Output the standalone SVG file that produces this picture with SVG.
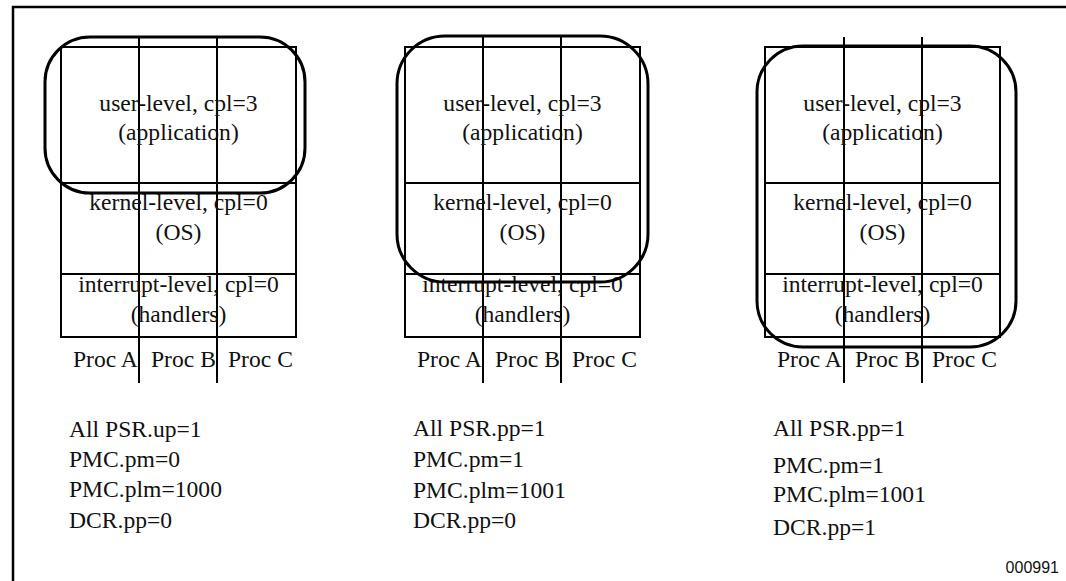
<svg xmlns="http://www.w3.org/2000/svg" width="1066" height="581" viewBox="0 0 1066 581">
<style>
.frame{fill:none;stroke:#000;stroke-width:2.5}
.grid{fill:none;stroke:#000;stroke-width:2}
.ring{fill:none;stroke:#000;stroke-width:3}
.t{font-family:"Liberation Serif","Times New Roman",serif;font-size:23.6px;fill:#111}
.c{text-anchor:middle}
.id{font-family:"Liberation Sans",Arial,sans-serif;font-size:16px;fill:#111;text-anchor:end}
</style>
<rect width="1066" height="581" fill="#fff"/>
<path class="frame" d="M13,581 V7 H1066"/>

<g id="panel1">
  <g id="grid1">
    <rect class="grid" x="61" y="47" width="235" height="290"/>
    <line class="grid" x1="61" y1="183" x2="296" y2="183"/>
    <line class="grid" x1="61" y1="274" x2="296" y2="274"/>
    <line class="grid" x1="139" y1="38" x2="139" y2="383"/>
    <line class="grid" x1="217" y1="38" x2="217" y2="383"/>
  </g>
  <g class="t c">
    <text x="178.5" y="111">user-level, cpl=3</text>
    <text x="178.5" y="140">(application)</text>
    <text x="178.5" y="210">kernel-level, cpl=0</text>
    <text x="178.5" y="240">(OS)</text>
    <text x="178.5" y="292">interrupt-level, cpl=0</text>
    <text x="178.5" y="322">(handlers)</text>
  </g>
  <g class="t">
    <text x="73" y="367">Proc A</text>
    <text x="151" y="367">Proc B</text>
    <text x="228" y="367">Proc C</text>
  </g>
  <rect id="scope1" class="ring" x="45" y="37" width="260" height="156" rx="45" ry="45"/>
  <g id="settings1" class="t">
    <text x="69" y="437">All PSR.up=1</text>
    <text x="69" y="467">PMC.pm=0</text>
    <text x="69" y="497">PMC.plm=1000</text>
    <text x="69" y="528">DCR.pp=0</text>
  </g>
</g>

<g id="panel2">
  <g id="grid2">
    <rect class="grid" x="405" y="47" width="235" height="290"/>
    <line class="grid" x1="405" y1="183" x2="640" y2="183"/>
    <line class="grid" x1="405" y1="274" x2="640" y2="274"/>
    <line class="grid" x1="483" y1="37" x2="483" y2="383"/>
    <line class="grid" x1="561" y1="37" x2="561" y2="383"/>
  </g>
  <g class="t c">
    <text x="522.5" y="111">user-level, cpl=3</text>
    <text x="522.5" y="140">(application)</text>
    <text x="522.5" y="210">kernel-level, cpl=0</text>
    <text x="522.5" y="240">(OS)</text>
    <text x="522.5" y="292">interrupt-level, cpl=0</text>
    <text x="522.5" y="322">(handlers)</text>
  </g>
  <g class="t">
    <text x="417" y="367">Proc A</text>
    <text x="495" y="367">Proc B</text>
    <text x="572" y="367">Proc C</text>
  </g>
  <rect id="scope2" class="ring" x="397" y="36" width="251" height="246" rx="48" ry="48"/>
  <g id="settings2" class="t">
    <text x="413" y="436">All PSR.pp=1</text>
    <text x="413" y="467">PMC.pm=1</text>
    <text x="413" y="498">PMC.plm=1001</text>
    <text x="413" y="528">DCR.pp=0</text>
  </g>
</g>

<g id="panel3">
  <g id="grid3">
    <rect class="grid" x="765" y="47" width="235" height="290"/>
    <line class="grid" x1="765" y1="183" x2="1000" y2="183"/>
    <line class="grid" x1="765" y1="274" x2="1000" y2="274"/>
    <line class="grid" x1="844" y1="37" x2="844" y2="383"/>
    <line class="grid" x1="922" y1="37" x2="922" y2="383"/>
  </g>
  <g class="t c">
    <text x="882.5" y="111">user-level, cpl=3</text>
    <text x="882.5" y="140">(application)</text>
    <text x="882.5" y="210">kernel-level, cpl=0</text>
    <text x="882.5" y="240">(OS)</text>
    <text x="882.5" y="292">interrupt-level, cpl=0</text>
    <text x="882.5" y="322">(handlers)</text>
  </g>
  <g class="t">
    <text x="777" y="367">Proc A</text>
    <text x="855" y="367">Proc B</text>
    <text x="932" y="367">Proc C</text>
  </g>
  <rect id="scope3" class="ring" x="757" y="46" width="259" height="301" rx="46" ry="46"/>
  <g id="settings3" class="t">
    <text x="773" y="436">All PSR.pp=1</text>
    <text x="773" y="473">PMC.pm=1</text>
    <text x="773" y="502">PMC.plm=1001</text>
    <text x="773" y="535">DCR.pp=1</text>
  </g>
</g>

<text id="figid" class="id" x="1059" y="573">000991</text>
</svg>
